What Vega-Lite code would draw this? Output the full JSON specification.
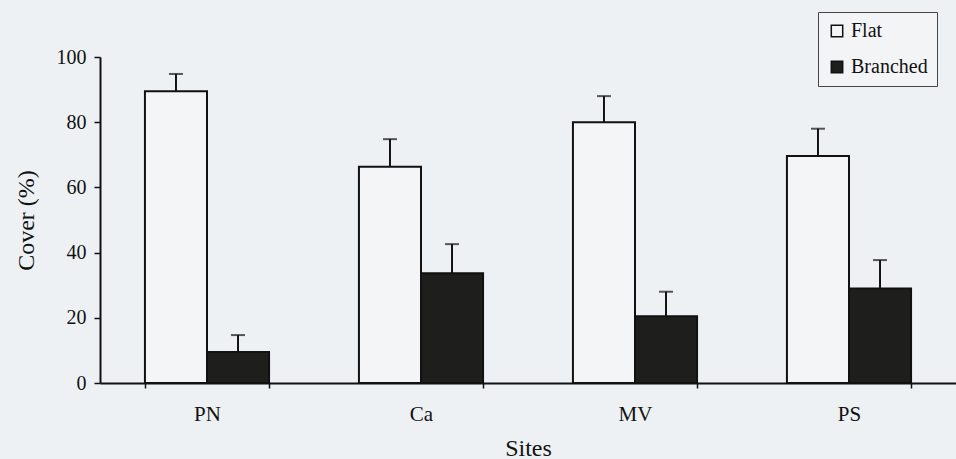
{
  "$schema": "https://vega.github.io/schema/vega-lite/v6.json",
  "width": 856,
  "height": 326,
  "autosize": {"type": "none"},
  "padding": {"left": 100, "top": 57, "right": 0, "bottom": 76},
  "background": "#eef1f4",
  "config": {
    "view": {"stroke": null},
    "font": "Liberation Serif",
    "axis": {"labelFont": "Liberation Serif", "titleFont": "Liberation Serif", "labelColor": "#111", "titleColor": "#111", "domainColor": "#111", "tickColor": "#111", "domainWidth": 2, "tickWidth": 1.5, "grid": false},
    "legend": {"labelFont": "Liberation Serif"}
  },
  "data": {
    "values": [
      {"Site": "PN", "Type": "Flat", "Cover": 89.5, "Upper": 94.8},
      {"Site": "PN", "Type": "Branched", "Cover": 9.5, "Upper": 14.7},
      {"Site": "Ca", "Type": "Flat", "Cover": 66.3, "Upper": 74.8},
      {"Site": "Ca", "Type": "Branched", "Cover": 33.7, "Upper": 42.6},
      {"Site": "MV", "Type": "Flat", "Cover": 80.0, "Upper": 88.0},
      {"Site": "MV", "Type": "Branched", "Cover": 20.5, "Upper": 28.0},
      {"Site": "PS", "Type": "Flat", "Cover": 69.6, "Upper": 78.0},
      {"Site": "PS", "Type": "Branched", "Cover": 29.0, "Upper": 37.7}
    ]
  },
  "encoding": {
    "x": {
      "field": "Site", "type": "nominal", "sort": ["PN", "Ca", "MV", "PS"],
      "scale": {"paddingInner": 0.42, "paddingOuter": 0.21},
      "axis": {"title": "Sites", "labelAngle": 0, "tickBand": "extent", "tickSize": 5, "labelPadding": 15, "labelFontSize": 21, "titleFontSize": 24, "titlePadding": 12, "titleFontWeight": "normal"}
    },
    "xOffset": {"field": "Type", "type": "nominal", "sort": ["Flat", "Branched"], "scale": {"paddingInner": 0}}
  },
  "layer": [
    {
      "mark": {"type": "bar", "stroke": "#111", "strokeWidth": 2},
      "encoding": {
        "y": {
          "field": "Cover", "type": "quantitative",
          "scale": {"domain": [0, 100], "nice": false},
          "axis": {"title": "Cover (%)", "values": [0, 20, 40, 60, 80, 100], "tickSize": 6, "labelPadding": 8, "labelFontSize": 20, "titleFontSize": 24, "titleFontWeight": "normal", "titlePadding": 18}
        },
        "fill": {
          "field": "Type", "type": "nominal",
          "scale": {"domain": ["Flat", "Branched"], "range": ["#f4f5f7", "#1e1e1c"]},
          "legend": {
            "title": null, "orient": "none", "legendX": 718, "legendY": -45,
            "symbolType": "square", "symbolSize": 130, "symbolStrokeColor": "#111", "symbolStrokeWidth": 1.5,
            "labelFontSize": 20, "labelColor": "#111", "labelOffset": 4, "rowPadding": 16, "padding": 9,
            "strokeColor": "#444", "fillColor": "#f3f4f6", "cornerRadius": 0
          }
        }
      }
    },
    {
      "mark": {"type": "rule", "color": "#111", "strokeWidth": 2},
      "encoding": {
        "y": {"field": "Cover", "type": "quantitative"},
        "y2": {"field": "Upper"}
      }
    },
    {
      "mark": {"type": "tick", "color": "#111", "thickness": 2, "size": 14},
      "encoding": {
        "y": {"field": "Upper", "type": "quantitative"}
      }
    }
  ]
}
